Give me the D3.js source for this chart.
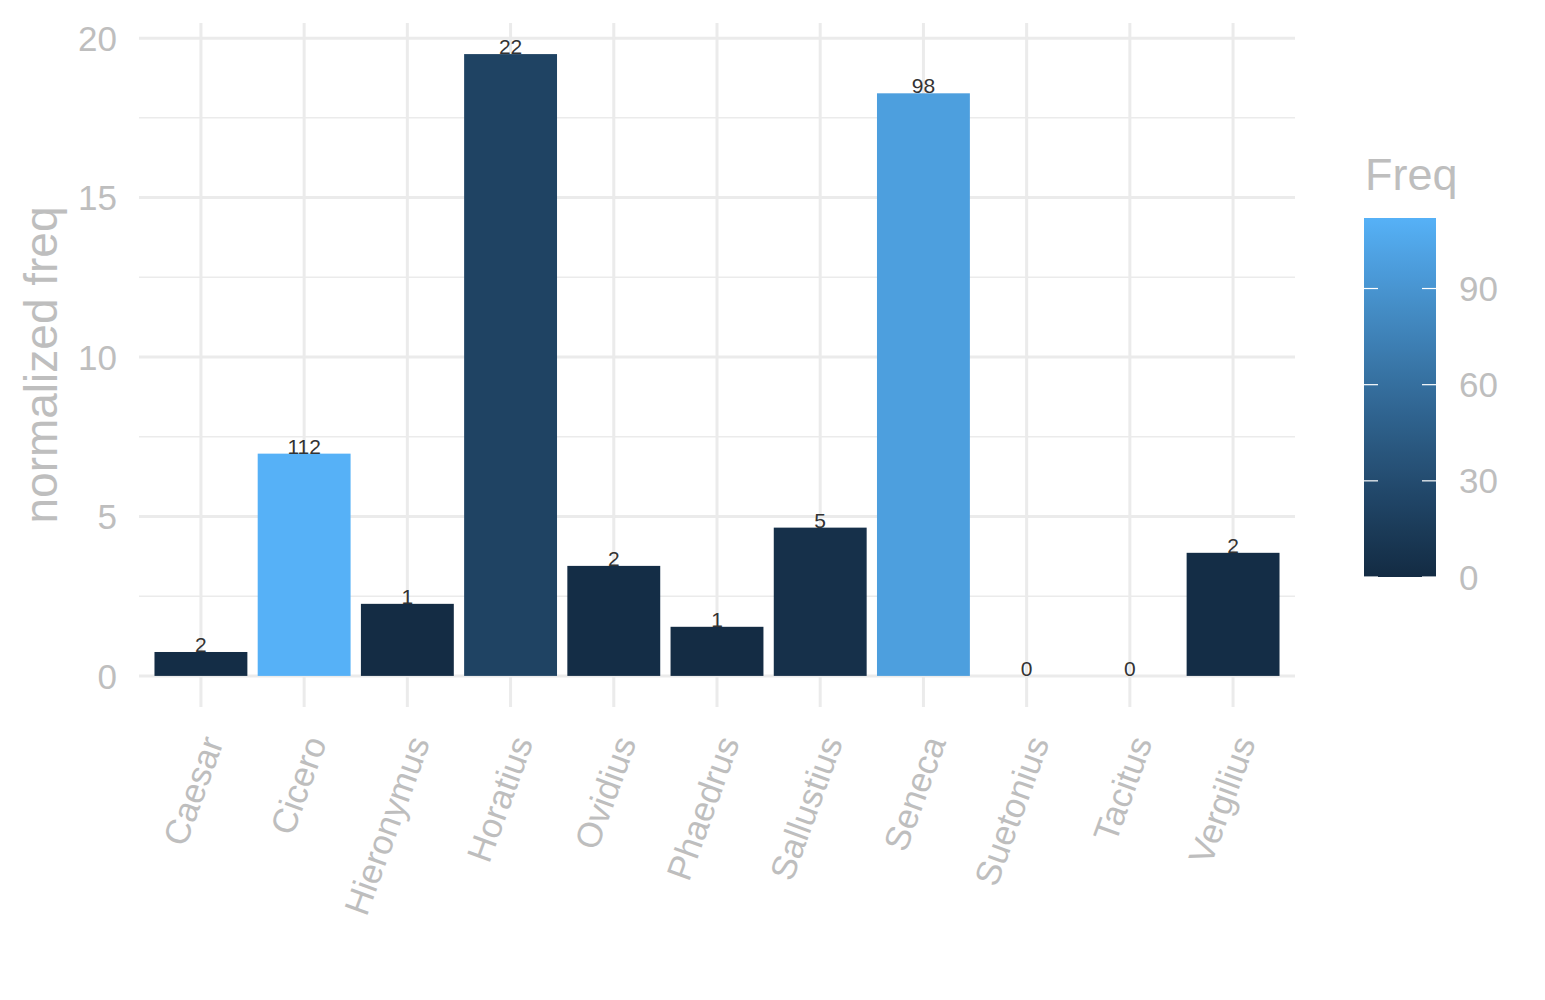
<!DOCTYPE html>
<html><head><meta charset="utf-8">
<script src="https://cdn.jsdelivr.net/npm/d3@7"></script>
<style>body{margin:0;background:#fff;}svg{font-family:"Liberation Sans",Arial,sans-serif;}</style>
</head><body>
<svg id="chart" width="1545" height="1000"></svg>
<script>
const authors = ["Caesar","Cicero","Hieronymus","Horatius","Ovidius","Phaedrus","Sallustius","Seneca","Suetonius","Tacitus","Vergilius"];
const normFreq = [0.75,6.97,2.26,19.5,3.45,1.54,4.65,18.27,0,0,3.86];
const freq = [2,112,1,22,2,1,5,98,0,0,2];
const yTicks = [0,5,10,15,20];
const yMinor = [2.5,7.5,12.5,17.5];
const legendTicks = [0,30,60,90];

const svg = d3.select("#chart");
const panel = {left:139, right:1295, top:23, bottom:707};
const grid = "#ebebeb", txt = "#bebebe";

const step = (panel.right - panel.left)/(authors.length - 1 + 1.2);
const xc = d3.scalePoint().domain(authors).range([panel.left + 0.6*step, panel.right - 0.6*step]);
const barW = step*0.9;

const yMax = d3.max(normFreq);
const y = d3.scaleLinear().domain([-0.05*yMax, yMax*1.05]).range([panel.bottom, panel.top]);
const color = d3.scaleLinear().domain([0, d3.max(freq)]).range(["#132B43","#56B1F7"]).interpolate(d3.interpolateLab);

// grid
svg.append("g").selectAll("line").data(yMinor).join("line")
  .attr("x1",panel.left).attr("x2",panel.right).attr("y1",d=>y(d)).attr("y2",d=>y(d))
  .attr("stroke",grid).attr("stroke-width",1.5);
svg.append("g").selectAll("line").data(yTicks).join("line")
  .attr("x1",panel.left).attr("x2",panel.right).attr("y1",d=>y(d)).attr("y2",d=>y(d))
  .attr("stroke",grid).attr("stroke-width",3);
svg.append("g").selectAll("line").data(authors).join("line")
  .attr("x1",d=>xc(d)).attr("x2",d=>xc(d)).attr("y1",panel.top).attr("y2",panel.bottom)
  .attr("stroke",grid).attr("stroke-width",3);

// bars
svg.append("g").selectAll("rect").data(authors).join("rect")
  .attr("x",d=>xc(d)-barW/2).attr("width",barW)
  .attr("y",(d,i)=>y(normFreq[i])).attr("height",(d,i)=>y(0)-y(normFreq[i]))
  .attr("fill",(d,i)=>color(freq[i]));

// labels
svg.append("g").selectAll("text").data(authors).join("text")
  .attr("x",d=>xc(d)).attr("y",(d,i)=>y(normFreq[i]))
  .attr("text-anchor","middle").attr("font-size",21).attr("fill","#333")
  .text((d,i)=>freq[i]);

// y axis labels
svg.append("g").selectAll("text").data(yTicks).join("text")
  .attr("x",117).attr("y",d=>y(d)).attr("dy","0.36em")
  .attr("text-anchor","end").attr("font-size",35).attr("fill",txt).text(d=>d);

// x axis labels
svg.append("g").selectAll("text").data(authors).join("text")
  .attr("transform",d=>`translate(${xc(d)+23},${742}) rotate(-70)`)
  .attr("text-anchor","end").attr("font-size",35).attr("fill",txt).text(d=>d);

// y title
svg.append("text").attr("transform",`translate(57,${(panel.top+panel.bottom)/2}) rotate(-90)`)
  .attr("text-anchor","middle").attr("font-size",46).attr("fill",txt).text("normalized freq");

// legend
const lg = {x:1364, w:72, top:218, bottom:577};
const ly = d3.scaleLinear().domain([0, d3.max(freq)]).range([lg.bottom, lg.top]);
const defs = svg.append("defs");
const gr = defs.append("linearGradient").attr("id","lgrad").attr("x1",0).attr("x2",0).attr("y1",1).attr("y2",0);
d3.range(0,1.0001,0.05).forEach(t=>gr.append("stop").attr("offset",t).attr("stop-color",color(t*d3.max(freq))));
svg.append("rect").attr("x",lg.x).attr("y",lg.top).attr("width",lg.w).attr("height",lg.bottom-lg.top).attr("fill","url(#lgrad)");
const lt = svg.append("g").selectAll("g").data(legendTicks).join("g");
lt.append("line").attr("x1",lg.x).attr("x2",lg.x+14).attr("y1",d=>ly(d)).attr("y2",d=>ly(d)).attr("stroke","#fff").attr("stroke-width",1.2);
lt.append("line").attr("x1",lg.x+lg.w-14).attr("x2",lg.x+lg.w).attr("y1",d=>ly(d)).attr("y2",d=>ly(d)).attr("stroke","#fff").attr("stroke-width",1.2);
lt.append("text").attr("x",1459).attr("y",d=>ly(d)).attr("dy","0.36em").attr("font-size",35).attr("fill",txt).text(d=>d);
svg.append("text").attr("x",1365).attr("y",190).attr("font-size",45).attr("fill",txt).text("Freq");
</script>
</body></html>
